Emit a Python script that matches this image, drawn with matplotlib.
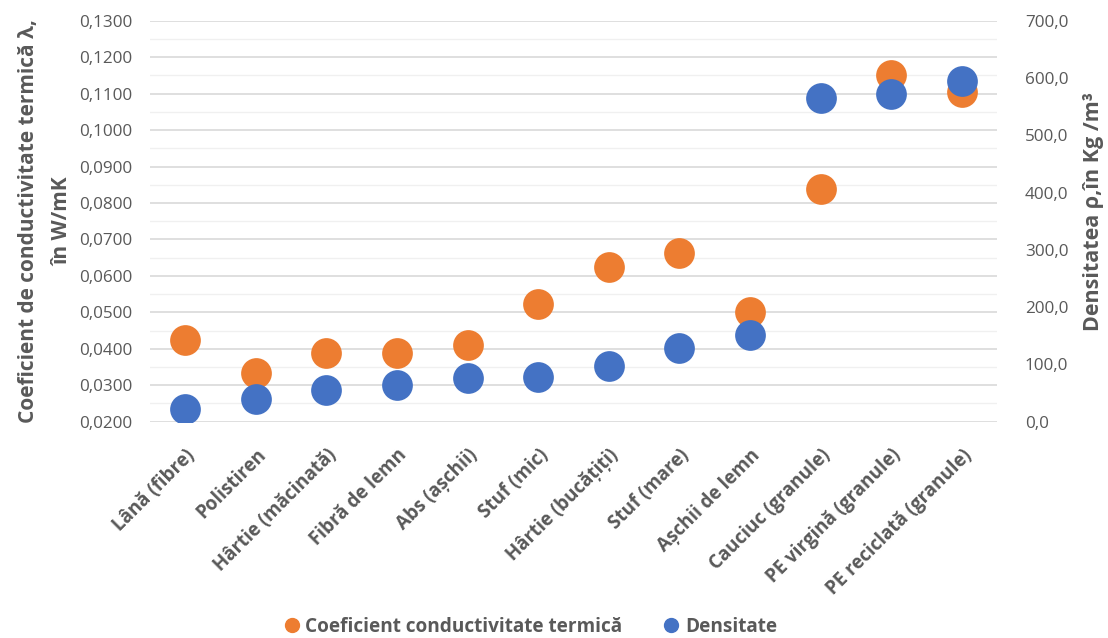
import matplotlib
matplotlib.use("Agg")
import matplotlib.pyplot as plt
from matplotlib.ticker import MultipleLocator, FuncFormatter
from matplotlib.lines import Line2D

materials = [
    "Lână (fibre)", "Polistiren", "Hârtie (măcinată)", "Fibră de lemn",
    "Abs (așchii)", "Stuf (mic)", "Hârtie (bucățiți)", "Stuf (mare)",
    "Așchii de lemn", "Cauciuc (granule)", "PE virgină (granule)",
    "PE reciclată (granule)",
]
conductivity = [0.0423, 0.0334, 0.0388, 0.0389, 0.0410, 0.0523,
                0.0624, 0.0662, 0.0501, 0.0837, 0.1150, 0.1104]
density = [21.6, 39.6, 54.8, 64.6, 76.3, 78.5,
           97.7, 128.1, 150.8, 564.5, 571.5, 595.2]

ORANGE = "#ED7D31"
BLUE = "#4472C4"
TXT = "#595959"
FONT = ["Open Sans", "DejaVu Sans"]

plt.rcParams["font.family"] = FONT

fig = plt.figure(figsize=(11.08, 6.38), dpi=100)
ax = fig.add_axes([0.1354, 0.339, 0.7644, 0.6286])
ax2 = ax.twinx()

x = list(range(len(materials)))
ax.scatter(x, conductivity, s=490, color=ORANGE, zorder=3, linewidths=0)
ax2.scatter(x, density, s=490, color=BLUE, zorder=3, linewidths=0)

ax.set_xlim(-0.5, len(materials) - 0.5)
ax.set_ylim(0.02, 0.13)
ax2.set_ylim(0, 700)

ax.yaxis.set_major_locator(MultipleLocator(0.01))
ax.yaxis.set_minor_locator(MultipleLocator(0.005))
ax.yaxis.set_major_formatter(FuncFormatter(lambda v, p: f"{v:.4f}".replace(".", ",")))
ax2.yaxis.set_major_locator(MultipleLocator(100))
ax2.yaxis.set_major_formatter(FuncFormatter(lambda v, p: f"{v:.1f}".replace(".", ",")))

ax.grid(axis="y", which="major", color="#d9d9d9", linewidth=1.2, zorder=0)
ax.grid(axis="y", which="minor", color="#f0f0f0", linewidth=1.0, zorder=0)
ax.set_axisbelow(True)

for a in (ax, ax2):
    for sp in a.spines.values():
        sp.set_visible(False)
    a.tick_params(which="both", length=0, colors=TXT, labelsize=12.3)

ax.tick_params(axis="y", pad=13)
ax2.tick_params(axis="y", pad=20)

ax.set_xticks(x)
ax.set_xticklabels(materials, rotation=45, ha="right", rotation_mode="anchor",
                   fontsize=13.5, fontweight="bold", color=TXT)
ax.tick_params(axis="x", pad=17)

ax.set_ylabel("Coeficient de conductivitate termică λ,\nîn W/mK",
              fontsize=15, fontweight="bold", color=TXT, labelpad=4,
              linespacing=1.8)
ax2.set_ylabel("Densitatea ρ,în Kg /m³", fontsize=15.5, fontweight="bold",
               color=TXT, labelpad=12)
ax2.yaxis.set_label_coords(1.101, 0.525)

handles = [
    Line2D([], [], marker="o", linestyle="none", color=ORANGE, markersize=10,
           label="Coeficient conductivitate termică"),
    Line2D([], [], marker="o", linestyle="none", color=BLUE, markersize=10,
           label="Densitate"),
]
leg = fig.legend(handles=handles, loc="center", bbox_to_anchor=(0.477, 0.017),
                 ncol=2, frameon=False, handletextpad=0.1, columnspacing=2.0,
                 handlelength=1.2, borderpad=0,
                 prop={"family": FONT, "weight": "bold", "size": 13.7})
for t in leg.get_texts():
    t.set_color(TXT)

fig.savefig("out.png", dpi=100, facecolor="white")
